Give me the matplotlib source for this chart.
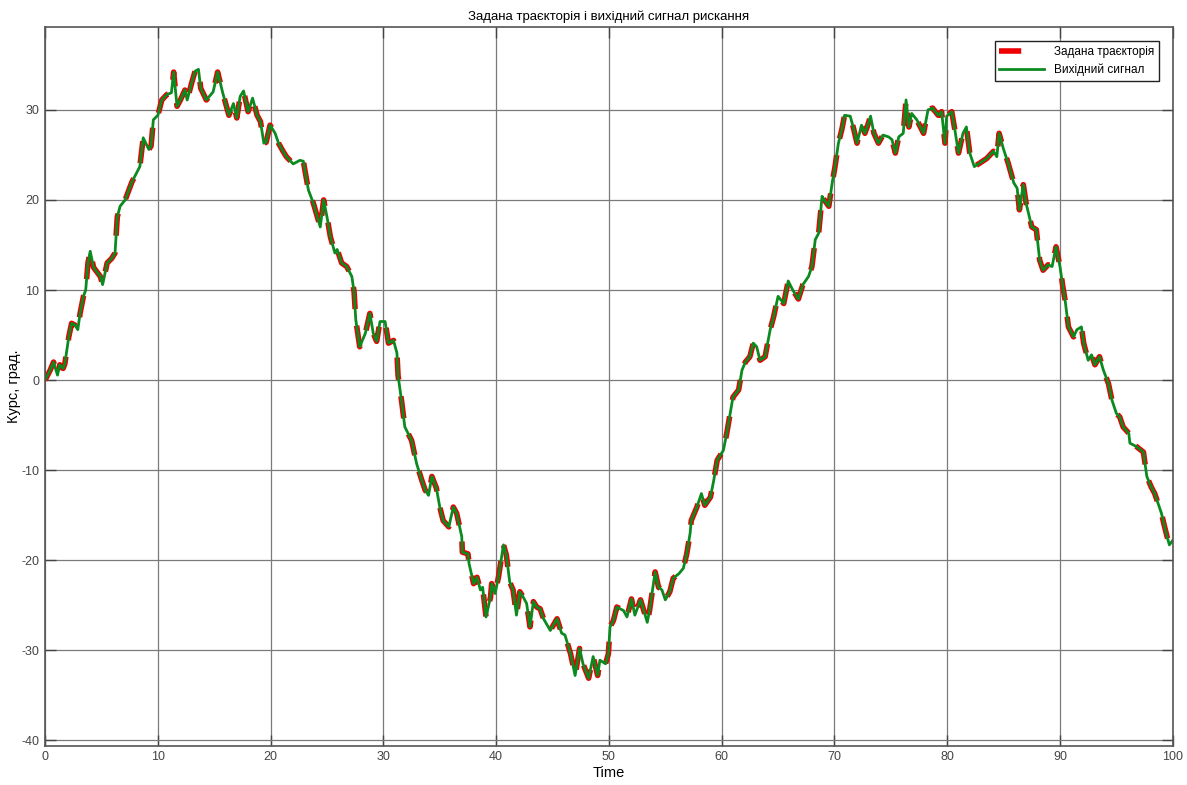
import matplotlib
matplotlib.use('Agg')
import matplotlib.pyplot as plt
import matplotlib.ticker as mticker
from matplotlib.lines import Line2D

plt.rcParams['font.family'] = ['Liberation Sans', 'DejaVu Sans']
plt.rcParams['axes.unicode_minus'] = False

# траєкторія рискання (час, курс у градусах)
t = [0.0, 0.45, 0.75, 1.1, 1.3, 1.6, 1.75, 2.1, 2.35, 2.65, 2.9, 3.1, 3.4, 3.6, 3.8,
     4.0, 4.3, 4.9, 5.1, 5.5, 5.9, 6.2, 6.4, 6.65, 7.1, 7.7, 8.4, 8.7, 9.2, 9.4,
     9.6, 10.0, 10.35, 10.8, 11.2, 11.4, 11.7, 12.0, 12.4, 12.6, 13.0, 13.3, 13.6,
     13.8, 14.3, 14.9, 15.3, 15.75, 16.3, 16.7, 17.0, 17.3, 17.6, 18.0, 18.4, 18.8,
     19.1, 19.4, 19.6, 19.95, 20.4, 20.7, 21.1, 21.4, 22.0, 22.6, 22.9, 23.35, 23.8,
     24.4, 24.7, 25.0, 25.3, 25.7, 25.9, 26.3, 26.75, 27.2, 27.4, 27.55, 27.9, 28.4,
     28.8, 29.1, 29.4, 29.7, 30.15, 30.45, 30.9, 31.2, 31.3, 31.6, 31.9, 32.5, 32.95,
     33.4, 33.7, 34.0, 34.3, 34.7, 35.0, 35.3, 35.8, 36.2, 36.5, 36.95, 37.0, 37.5,
     37.6, 38.0, 38.3, 38.6, 38.8, 39.1, 39.5, 39.6, 39.9, 40.2, 40.65, 40.9, 41.2,
     41.5, 41.8, 42.1, 42.4, 42.7, 43.0, 43.3, 43.6, 43.9, 44.2, 44.8, 45.4, 45.8,
     46.1, 46.6, 47.0, 47.4, 47.7, 48.2, 48.6, 49.0, 49.2, 49.7, 49.95, 50.1, 50.4,
     50.7, 51.3, 51.6, 52.0, 52.3, 52.8, 53.0, 53.4, 53.6, 54.1, 54.4, 54.7, 55.0,
     55.4, 55.7, 56.2, 56.6, 56.9, 57.2, 57.3, 57.8, 58.2, 58.5, 59.0, 59.3, 59.6,
     59.9, 60.15, 60.45, 60.75, 61.0, 61.5, 61.8, 62.1, 62.5, 62.8, 63.1, 63.4,
     63.85, 64.3, 64.6, 65.0, 65.5, 65.9, 66.3, 66.8, 67.2, 67.7, 68.0, 68.3, 68.6,
     68.9, 69.1, 69.5, 69.8, 70.05, 70.35, 70.65, 70.9, 71.4, 71.7, 72.0, 72.4, 72.7,
     72.9, 73.2, 73.5, 73.9, 74.3, 74.8, 75.1, 75.4, 75.7, 76.1, 76.35, 76.6, 76.85,
     77.3, 77.9, 78.3, 78.7, 79.2, 79.5, 79.8, 79.95, 80.4, 80.7, 81.0, 81.4, 81.7,
     82.0, 82.4, 82.9, 83.5, 84.1, 84.4, 84.6, 85.0, 85.4, 85.9, 86.2, 86.4, 86.75,
     87.0, 87.5, 87.9, 88.2, 88.5, 88.95, 89.3, 89.65, 90.0, 90.25, 90.45, 90.75,
     91.2, 91.5, 91.9, 92.1, 92.5, 92.8, 93.1, 93.5, 93.85, 94.3, 94.6, 95.0, 95.3,
     95.6, 96.1, 96.2, 96.8, 97.4, 97.7, 98.1, 98.4, 98.7, 99.0, 99.2, 99.5, 99.7,
     100.0]
course = [0.0, 1.1, 2.0, 0.55, 1.7, 1.3, 1.8, 4.8, 6.3, 6.1, 5.6, 7.4, 9.3, 10.0, 13.0,
          14.3, 12.5, 11.5, 10.6, 13.0, 13.5, 14.1, 18.1, 19.3, 20.0, 22.0, 23.7, 26.9,
          25.6, 26.0, 28.9, 29.4, 31.1, 31.7, 31.9, 34.2, 30.4, 31.1, 32.2, 31.1, 33.0,
          34.3, 34.5, 32.4, 31.1, 32.0, 34.2, 31.9, 29.4, 30.7, 29.1, 31.5, 32.1, 29.8,
          31.3, 29.4, 28.7, 26.3, 26.4, 28.3, 27.4, 26.3, 25.4, 24.8, 24.0, 24.4, 24.3,
          21.1, 19.6, 17.0, 20.0, 18.1, 15.9, 14.1, 14.5, 13.0, 12.6, 11.5, 9.8, 6.7,
          3.7, 5.2, 7.4, 5.2, 4.3, 6.5, 6.5, 4.1, 4.4, 3.0, 0.5, -2.2, -5.2, -6.7, -9.3,
          -11.1, -12.2, -12.8, -10.7, -12.0, -14.1, -15.6, -16.3, -14.1, -14.8, -17.4,
          -19.1, -19.3, -20.4, -22.6, -21.9, -23.3, -23.0, -26.3, -24.1, -22.6, -23.7,
          -21.9, -18.3, -19.4, -22.4, -23.3, -26.1, -23.5, -24.1, -24.8, -27.4, -24.6,
          -25.2, -25.4, -26.5, -27.8, -26.5, -28.1, -28.3, -30.4, -32.8, -29.8, -31.5,
          -33.1, -30.7, -32.8, -31.1, -31.5, -30.4, -27.4, -26.7, -25.2, -25.6, -26.3,
          -24.3, -26.1, -24.4, -25.2, -26.9, -25.6, -21.3, -23.0, -23.3, -24.4, -23.5,
          -22.0, -21.5, -20.9, -19.3, -17.0, -15.6, -14.1, -12.6, -13.9, -13.0, -11.1,
          -8.9, -8.3, -7.8, -5.9, -3.7, -1.9, -1.1, 1.1, 2.0, 2.6, 4.1, 3.7, 2.2, 2.6,
          5.6, 7.0, 9.3, 8.5, 11.0, 10.0, 9.0, 10.6, 11.5, 12.6, 15.6, 16.3, 20.4, 20.0,
          19.3, 21.9, 23.7, 26.3, 27.8, 29.4, 29.3, 27.9, 26.3, 28.3, 27.4, 28.1, 29.3,
          27.4, 26.3, 27.2, 27.0, 26.7, 25.2, 27.0, 27.4, 31.1, 28.1, 29.6, 28.9, 27.4,
          30.0, 30.2, 29.4, 29.8, 26.3, 29.3, 29.8, 27.6, 25.2, 27.4, 28.1, 25.2, 23.7,
          24.1, 24.6, 25.4, 24.8, 27.4, 25.6, 24.1, 21.9, 21.3, 18.9, 21.7, 19.6, 17.0,
          16.7, 13.3, 12.2, 12.8, 12.6, 14.8, 12.6, 10.4, 8.9, 5.9, 4.8, 5.6, 5.9, 4.1,
          2.2, 2.8, 1.7, 2.6, 1.1, -0.4, -2.2, -3.7, -4.1, -5.2, -5.9, -7.0, -7.4, -8.0,
          -10.7, -11.9, -12.6, -13.7, -14.8, -15.9, -17.4, -18.3, -17.8]

RED = '#ee0000'
GREEN = '#0b8a1f'

fig = plt.figure(figsize=(11.87, 7.85), dpi=100)
ax = fig.add_axes([0.038, 0.050, 0.950, 0.9156])

ax.plot(t, course, color=RED, lw=4.0, dashes=(4, 3))
ax.plot(t, course, color=GREEN, lw=2.0)

ax.set_xlim(0, 100)
ax.set_ylim(-40.6, 39.2)
ax.xaxis.set_major_locator(mticker.MultipleLocator(10))
ax.yaxis.set_major_locator(mticker.MultipleLocator(10))
ax.grid(True, color='#7a7a7a', lw=0.9)
ax.tick_params(direction='in', length=8, width=1.0, top=True, right=True,
               labelsize=9, colors='#444444', pad=4)
for s in ax.spines.values():
    s.set_color('#555555')
    s.set_linewidth(1.2)

ax.set_title('Задана траєкторія і вихідний сигнал рискання', fontsize=9.5, pad=5)
ax.set_xlabel('Time', fontsize=10.5, labelpad=2)
ax.set_ylabel('Курс, град.', fontsize=10.5)
ax.yaxis.set_label_coords(-0.021, 0.5)

# у легенді червона лінія показана одним штрихом
handles = [Line2D([], [], color=RED, lw=4.0, dashes=(4, 6)),
           Line2D([], [], color=GREEN, lw=2.0)]
leg = ax.legend(handles, ['Задана траєкторія', 'Вихідний сигнал'],
                loc='upper right', fontsize=8.5, handlelength=3.8, fancybox=False,
                framealpha=1, edgecolor='#222222', borderaxespad=1.2)
leg.get_frame().set_linewidth(1.0)

fig.savefig('out.png', dpi=100)
